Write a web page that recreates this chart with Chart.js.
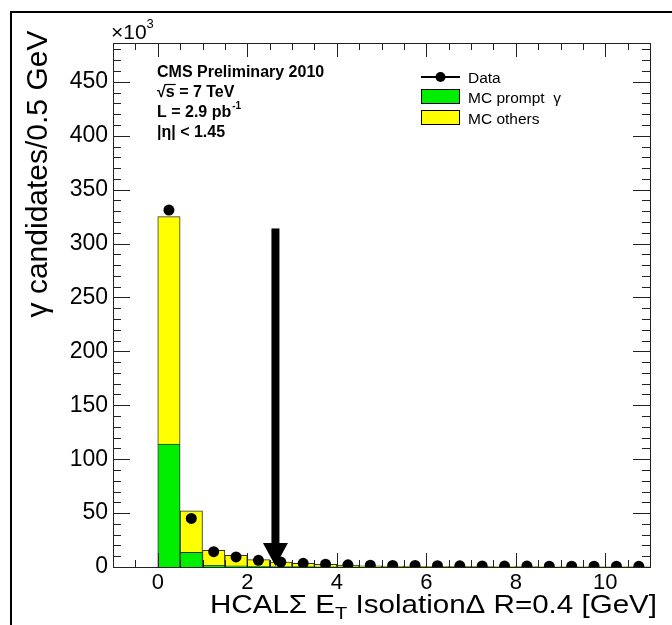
<!DOCTYPE html>
<html>
<head>
<meta charset="utf-8">
<script src="https://cdn.jsdelivr.net/npm/chart.js@4.4.1/dist/chart.umd.min.js"></script>
<style>
  html, body { margin: 0; padding: 0; background: #fff; }
  #wrap { position: relative; width: 672px; height: 625px; }
  canvas { display: block; }
</style>
</head>
<body>
<div id="wrap"><canvas id="c" width="672" height="625"></canvas></div>
<script>
// ---- data (values in units of 10^3) ----
const binCenters = [0.25, 0.75, 1.25, 1.75, 2.25, 2.75, 3.25, 3.75, 4.25, 4.75, 5.25,
                    5.75, 6.25, 6.75, 7.25, 7.75, 8.25, 8.75, 9.25, 9.75, 10.25, 10.75];
const mcPromptGamma = [114, 13.5, 1.5, 1.0, 0.6, 0.4, 0.3, 0.2, 0.15, 0.1, 0.1,
                       0.05, 0.05, 0.05, 0.05, 0.03, 0.03, 0.03, 0.02, 0.02, 0.02, 0.02];
const mcOthers = [211, 38.5, 14.0, 9.8, 6.2, 4.2, 3.1, 2.3, 1.6, 0.9, 0.7,
                  0.55, 0.45, 0.4, 0.35, 0.3, 0.25, 0.22, 0.2, 0.18, 0.15, 0.12];
const dataCounts = [331, 45, 14.2, 9.3, 6.2, 4.6, 3.4, 2.6, 2.0, 1.7, 1.5,
                    1.4, 1.2, 1.1, 1.0, 0.9, 0.9, 0.8, 0.8, 0.7, 0.7, 0.6];
const xTickValues = [0, 2, 4, 6, 8, 10];
const yTickValues = [0, 50, 100, 150, 200, 250, 300, 350, 400, 450];
const xRange = [-1, 11];
const yRange = [0, 486];
const isoCut = 2.63;       // arrow position [GeV]
const arrowTop = 314;      // arrow length (10^3 units)

const FONT = '"Liberation Sans", Arial, Helvetica, sans-serif';

const rootDecor = {
  id: 'rootDecor',
  afterDatasetsDraw(chart) {
    const ctx = chart.ctx;
    const xs = chart.scales.x, ys = chart.scales.y;
    // arrow
    const ax = xs.getPixelForValue(isoCut);
    const y0 = ys.getPixelForValue(0);
    const yt = ys.getPixelForValue(arrowTop);
    ctx.save();
    ctx.fillStyle = '#000';
    ctx.fillRect(ax - 4, yt, 8, (y0 - 22) - yt + 1);
    ctx.beginPath();
    ctx.moveTo(ax - 12.5, y0 - 24);
    ctx.lineTo(ax + 12.5, y0 - 24);
    ctx.lineTo(ax, y0 - 1);
    ctx.closePath();
    ctx.fill();
    ctx.restore();
  },
  afterDraw(chart) {
    const ctx = chart.ctx;
    const a = chart.chartArea;
    const xs = chart.scales.x, ys = chart.scales.y;
    ctx.save();
    // frame
    ctx.strokeStyle = '#222';
    ctx.lineWidth = 1;
    ctx.strokeRect(Math.round(a.left) + 0.5, Math.round(a.top) + 0.5,
                   Math.round(a.right - a.left), Math.round(a.bottom - a.top));
    // ticks (inward, both sides)
    ctx.beginPath();
    for (let v = yRange[0]; v <= yRange[1]; v += 10) {
      const y = Math.round(ys.getPixelForValue(v)) + 0.5;
      const len = (v % 50 === 0) ? 17 : 8;
      ctx.moveTo(a.left, y); ctx.lineTo(a.left + len, y);
      ctx.moveTo(a.right, y); ctx.lineTo(a.right - len, y);
    }
    for (let v = xRange[0]; v <= xRange[1] + 1e-9; v += 0.5) {
      const x = Math.round(xs.getPixelForValue(v)) + 0.5;
      const len = (Math.abs(v % 2) < 1e-9) ? 14 : 7;
      ctx.moveTo(x, a.bottom); ctx.lineTo(x, a.bottom - len);
      ctx.moveTo(x, a.top); ctx.lineTo(x, a.top + len);
    }
    ctx.stroke();

    // outer pad border (top & left)
    ctx.strokeStyle = '#000';
    ctx.lineWidth = 2;
    ctx.beginPath();
    ctx.moveTo(672, 12); ctx.lineTo(11, 12); ctx.lineTo(11, 625);
    ctx.stroke();

    ctx.fillStyle = '#000';
    ctx.textBaseline = 'alphabetic';
    // x10^3
    ctx.font = '21px ' + FONT;
    ctx.textAlign = 'left';
    ctx.fillText('\u00d710', 111, 39);
    const w10 = ctx.measureText('\u00d710').width;
    ctx.font = '13px ' + FONT;
    ctx.fillText('3', 111 + w10, 28);

    // y title
    ctx.save();
    ctx.translate(47, 174);
    ctx.rotate(-Math.PI / 2);
    ctx.font = '30px ' + FONT;
    ctx.textAlign = 'center';
    ctx.fillText('\u03b3 candidates/0.5 GeV', 0, 0);
    ctx.restore();

    // x title (right aligned at the end of the axis)
    ctx.save();
    const parts = [
      { t: 'HCAL\u03a3 E', f: 25, dy: 0 },
      { t: 'T', f: 17, dy: 6 },
      { t: ' Isolation\u0394 R=0.4 [GeV]', f: 25, dy: 0 }
    ];
    let total = 0;
    parts.forEach(p => { ctx.font = p.f + 'px ' + FONT; p.w = ctx.measureText(p.t).width; total += p.w; });
    const targetW = 447;
    const sx = targetW / total;
    ctx.translate(657 - targetW, 613);
    ctx.scale(sx, 1);
    let cx = 0;
    ctx.textAlign = 'left';
    parts.forEach(p => { ctx.font = p.f + 'px ' + FONT; ctx.fillText(p.t, cx, p.dy); cx += p.w; });
    ctx.restore();

    // CMS labels
    ctx.textAlign = 'left';
    ctx.font = 'bold 16px ' + FONT;
    ctx.fillText('CMS Preliminary 2010', 157, 77);
    // sqrt(s)
    ctx.font = 'bold 16px ' + FONT;
    ctx.fillText('\u221a', 157, 97);
    const wr = ctx.measureText('\u221a').width;
    ctx.fillText('s = 7 TeV', 157 + wr, 97);
    const ws = ctx.measureText('s').width;
    ctx.lineWidth = 1.2;
    ctx.beginPath();
    ctx.moveTo(157 + wr - 1, 84.5); ctx.lineTo(157 + wr + ws + 1, 84.5);
    ctx.stroke();
    ctx.fillText('L = 2.9 pb', 157, 117);
    const wl = ctx.measureText('L = 2.9 pb').width;
    ctx.font = 'bold 10px ' + FONT;
    ctx.fillText('-1', 157 + wl + 1, 109);
    ctx.font = 'bold 16px ' + FONT;
    ctx.fillText('|\u03b7| < 1.45', 157, 137);

    // legend
    ctx.lineWidth = 2;
    ctx.strokeStyle = '#000';
    ctx.beginPath();
    ctx.moveTo(421, 77); ctx.lineTo(460, 77);
    ctx.stroke();
    ctx.beginPath();
    ctx.arc(440.5, 77, 5, 0, Math.PI * 2);
    ctx.fill();
    ctx.lineWidth = 1;
    ctx.fillStyle = '#00ee00';
    ctx.fillRect(421, 89, 39, 15);
    ctx.strokeRect(421.5, 89.5, 38, 14);
    ctx.fillStyle = '#ffff00';
    ctx.fillRect(421, 110, 39, 15);
    ctx.strokeRect(421.5, 110.5, 38, 14);
    ctx.fillStyle = '#000';
    ctx.font = '15.5px ' + FONT;
    ctx.fillText('Data', 468, 83);
    ctx.fillText('MC prompt  \u03b3', 468, 103);
    ctx.fillText('MC others', 468, 124);
    ctx.restore();
  }
};

const toXY = arr => binCenters.map((x, i) => ({ x: x, y: arr[i] }));

new Chart(document.getElementById('c'), {
  data: {
    datasets: [
      {
        type: 'scatter',
        label: 'Data',
        data: toXY(dataCounts),
        stack: 'data',
        order: 0,
        pointRadius: 5.5,
        pointBackgroundColor: '#000',
        pointBorderWidth: 0,
        showLine: false
      },
      {
        type: 'bar',
        label: 'MC prompt \u03b3',
        data: toXY(mcPromptGamma),
        order: 1,
        backgroundColor: '#00ee00',
        borderColor: '#333',
        borderWidth: 1,
        barPercentage: 1,
        categoryPercentage: 1
      },
      {
        type: 'bar',
        label: 'MC others',
        data: toXY(mcOthers),
        order: 1,
        backgroundColor: '#ffff00',
        borderColor: '#333',
        borderWidth: 1,
        barPercentage: 1,
        categoryPercentage: 1
      }
    ]
  },
  options: {
    responsive: false,
    devicePixelRatio: 1,
    animation: false,
    layout: { padding: { left: 0, right: 22, top: 43, bottom: 0 } },
    plugins: { legend: { display: false }, tooltip: { enabled: false } },
    scales: {
      x: {
        type: 'linear',
        stacked: true,
        offset: false,
        min: xRange[0], max: xRange[1],
        grid: { display: false, drawTicks: false },
        border: { display: false },
        afterBuildTicks: s => { s.ticks = xTickValues.map(v => ({ value: v })); },
        afterFit: s => { s.height = 58; },
        ticks: { padding: 3, color: '#000', font: { family: FONT, size: 22 }, maxRotation: 0, autoSkip: false }
      },
      y: {
        type: 'linear',
        stacked: true,
        min: yRange[0], max: yRange[1],
        grid: { display: false, drawTicks: false },
        border: { display: false },
        afterBuildTicks: s => { s.ticks = yTickValues.map(v => ({ value: v })); },
        afterFit: s => { s.width = 113; },
        ticks: { padding: 5, color: '#000', font: { family: FONT, size: 23 }, autoSkip: false }
      }
    }
  },
  plugins: [rootDecor]
});
</script>
</body>
</html>
